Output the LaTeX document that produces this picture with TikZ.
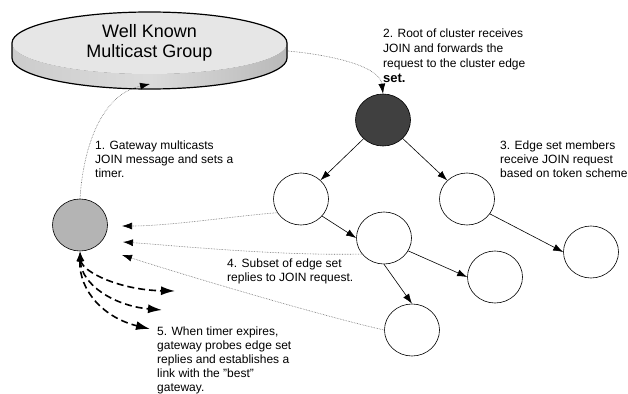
\documentclass[tikz,border=0pt]{standalone}
\usepackage{fontspec}
\setmainfont{Liberation Sans}
\usetikzlibrary{arrows.meta,shapes.geometric}
\definecolor{rootfill}{HTML}{404040}
\definecolor{gwfill}{HTML}{B4B4B4}
\definecolor{disctop}{HTML}{E6E6E6}

\begin{document}
\begin{tikzpicture}[x=1pt,y=-1pt,
  peer/.style={ellipse,draw=black,line width=0.6pt,minimum width=55pt,minimum height=52pt,inner sep=0pt},
  tree/.style={draw=black,line width=0.6pt,-{Latex[length=10pt,width=7pt]}},
  reply/.style={draw=black!60,line width=0.6pt,densely dotted,-{Latex[length=10pt,width=7pt,black]}},
  probe/.style={draw=black,line width=1.6pt,dash pattern=on 7pt off 4pt,
    {Latex[length=10pt,width=7pt]}-{Latex[length=14pt,width=9pt]}},
  note/.style={anchor=north west,inner sep=0pt,align=left,font=\fontsize{12}{14}\selectfont}
]
\useasboundingbox (0,0) rectangle (628,393);

% multicast group disc: side band, top face, outline
\fill[left color=gray!40,right color=gray!55,middle color=gray!28]
  (12,43) -- (12,58) arc[start angle=180,end angle=360,x radius=137.5pt,y radius=31pt]
  -- (287,43) arc[start angle=360,end angle=180,x radius=137.5pt,y radius=31pt] -- cycle;
\fill[disctop] (149.5,43) ellipse[x radius=137.5pt,y radius=31pt];
\draw[line width=1.2pt]
  (12,58) -- (12,43) arc[start angle=180,end angle=0,x radius=137.5pt,y radius=31pt]
  -- (287,58) arc[start angle=0,end angle=-180,x radius=137.5pt,y radius=31pt] -- cycle;
\node[align=center,font=\fontsize{18}{20}\selectfont] (mcg) at (149.5,43) {Well Known\\Multicast Group};
\coordinate (mcgFoot) at (150,84);
\coordinate (mcgRim) at (288,51);

% cluster nodes
\node[peer,fill=rootfill] (root) at (383,120) {};
\node[peer,fill=gwfill] (gw) at (80,225) {};
\node[peer] (A) at (301,199) {};
\node[peer] (B) at (467,199) {};
\node[peer] (C) at (384,238) {};
\node[peer] (D) at (591,252) {};
\node[peer] (E) at (495,277) {};
\node[peer] (F) at (412,330) {};

% tree edges
\draw[tree] (root) -- (A);
\draw[tree] (root) -- (B);
\draw[tree] (A.-39) -- (C.west);
\draw[tree] (B.-33) -- (D.west);
\draw[tree] (C.-28) -- (E.west);
\draw[tree] (C.south) -- (F.north);

% JOIN multicast and forwarding
\draw[reply] (gw.north) .. controls (83,150) and (100,95) .. (mcgFoot);
\draw[reply] (mcgRim) .. controls (340,56) and (380,68) .. (root.north);

% replies back to the gateway
\coordinate (gwIn1) at (122,226);
\coordinate (gwIn2) at (123,242);
\coordinate (gwIn3) at (122,255);
\draw[reply] (A.210) .. controls (235,216) and (170,226) .. (gwIn1);
\draw[reply] (C.216) .. controls (280,256) and (180,246) .. (gwIn2);
\draw[reply] (F.west) .. controls (330,318) and (200,280) .. (gwIn3);

% probes from the gateway
\coordinate (pr1) at (175,291);
\coordinate (pr2) at (162,310);
\coordinate (pr3) at (150,329);
\draw[probe] (gw.south) .. controls (82,272) and (120,290) .. (pr1);
\draw[probe] (gw.south) .. controls (81,285) and (115,306) .. (pr2);
\draw[probe] (gw.south) .. controls (79,292) and (105,318) .. (pr3);

% step notes
\node[note] (n1) at (95,140.5) {1. Gateway multicasts\\JOIN message and sets a\\timer.};
\node[note,font=\fontsize{12}{15}\selectfont] (n2) at (383,28.5)
  {2. Root of cluster receives\\JOIN and forwards the\\request to the cluster edge\\{\fontsize{13}{15}\selectfont\bfseries set.}};
\node[note] (n3) at (500,140.5) {3. Edge set members\\receive JOIN request\\based on token scheme};
\node[note] (n4) at (227,258.5) {4. Subset of edge set\\replies to JOIN request.};
\node[note] (n5) at (157,327) {5. When timer expires,\\gateway probes edge set\\replies and establishes a\\link with the "best"\\gateway.};
\end{tikzpicture}
\end{document}
